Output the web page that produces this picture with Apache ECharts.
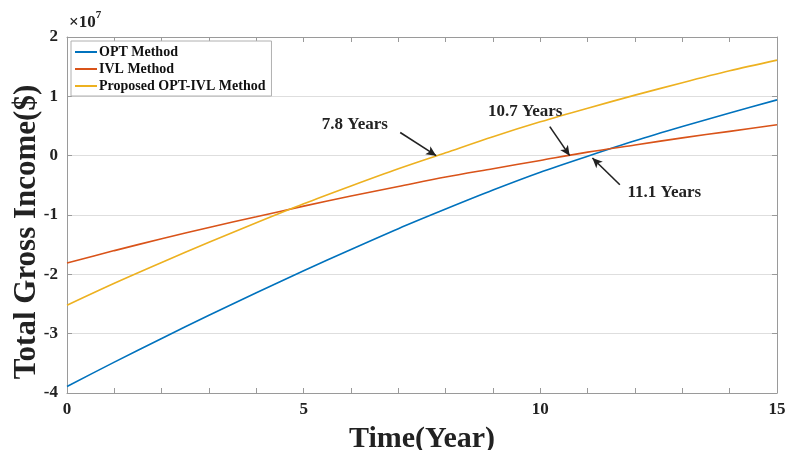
<!DOCTYPE html>
<html>
<head>
<meta charset="utf-8">
<script src="https://cdn.jsdelivr.net/npm/echarts@6/dist/echarts.min.js"></script>
<style>
  html, body { margin: 0; padding: 0; background: #fff; }
  #main { width: 786px; height: 450px; }
</style>
</head>
<body>
<div id="main"></div>
<script>
// values, in units of 1e7 $
const years = [0, 1, 2, 3, 4, 5, 6, 7, 8, 9, 10, 11, 12, 13, 14, 15]
const optMethod = [-3.89, -3.48, -3.08, -2.69, -2.31, -1.94, -1.58, -1.23, -0.90, -0.58, -0.28, -0.01, 0.25, 0.49, 0.72, 0.94]
const ivlMethod = [-1.81, -1.60, -1.40, -1.21, -1.03, -0.85, -0.68, -0.52, -0.36, -0.22, -0.08, 0.06, 0.18, 0.30, 0.41, 0.52]
const optIvlMethod = [-2.52, -2.15, -1.80, -1.46, -1.13, -0.81, -0.51, -0.22, 0.05, 0.32, 0.57, 0.80, 1.02, 1.23, 1.43, 1.61]

// annotations: label position, arrow tail, arrow head (data coords)
const notes = [
    { text: '7.8 Years', at: [6.08, 0.52], from: [7.04, 0.39], to: [7.8, 0] },
    { text: '10.7 Years', at: [9.68, 0.74], from: [10.2, 0.49], to: [10.62, 0] },
    { text: '11.1 Years', at: [12.62, -0.62], from: [11.68, -0.49], to: [11.1, -0.04] }
]

const FONT = 'Liberation Serif'
const COLORS = ['#0072BD', '#D95319', '#EDB120']

const pair = arr => years.map((t, i) => [t, arr[i]])

const chart = echarts.init(document.getElementById('main'))

const lineSeries = (name, arr, color) => ({
    name: name,
    type: 'line',
    data: pair(arr),
    showSymbol: false,
    smooth: 0.3,
    lineStyle: { width: 1.6, color: color },
    itemStyle: { color: color },
    z: 3
})

const axisGrey = '#9a9a9a'

const option = {
    animation: false,
    color: COLORS,
    grid: { left: 67, right: 9, top: 37, bottom: 57, containLabel: false, outerBoundsMode: 'none' },
    legend: {
        left: 71,
        top: 41,
        orient: 'vertical',
        itemWidth: 22,
        itemHeight: 2,
        itemGap: 3,
        icon: 'rect',
        padding: [4, 6, 3, 4],
        borderColor: '#b0b0b0',
        borderWidth: 1,
        borderRadius: 0,
        backgroundColor: '#fff',
        textStyle: { fontFamily: FONT, fontWeight: 'bold', fontSize: 14, color: '#111', padding: [0, 0, 0, -3] },
        data: ['OPT Method', 'IVL Method', 'Proposed OPT-IVL Method']
    },
    xAxis: [{
        type: 'value',
        min: 0, max: 15, interval: 5,
        name: 'Time(Year)',
        nameLocation: 'middle',
        nameGap: 31,
        nameTextStyle: { fontFamily: FONT, fontWeight: 'bold', fontSize: 30, color: '#222' },
        axisLine: { onZero: false, lineStyle: { color: axisGrey } },
        axisTick: { inside: true, length: 5, lineStyle: { color: axisGrey } },
        minorTick: { show: true, splitNumber: 5, length: 5, lineStyle: { color: axisGrey } },
        axisLabel: { fontFamily: FONT, fontWeight: 'bold', fontSize: 17, color: '#222', margin: 8 },
        splitLine: { show: false }
    }, {
        type: 'value',
        position: 'top',
        min: 0, max: 15, interval: 5,
        axisLine: { show: true, onZero: false, lineStyle: { color: axisGrey } },
        axisTick: { inside: true, length: 5, lineStyle: { color: axisGrey } },
        minorTick: { show: true, splitNumber: 5, length: 5, lineStyle: { color: axisGrey } },
        axisLabel: { show: false },
        splitLine: { show: false }
    }],
    yAxis: [{
        type: 'value',
        min: -4, max: 2, interval: 1,
        axisLine: { show: true, onZero: false, lineStyle: { color: axisGrey } },
        axisTick: { show: true, inside: true, length: 5, lineStyle: { color: axisGrey } },
        axisLabel: { fontFamily: FONT, fontWeight: 'bold', fontSize: 17, color: '#222', margin: 9 },
        splitLine: { lineStyle: { color: '#dedede', width: 1 } }
    }, {
        type: 'value',
        position: 'right',
        min: -4, max: 2, interval: 1,
        axisLine: { show: true, onZero: false, lineStyle: { color: axisGrey } },
        axisTick: { show: true, inside: true, length: 5, lineStyle: { color: axisGrey } },
        axisLabel: { show: false },
        splitLine: { show: false }
    }],
    series: [
        lineSeries('OPT Method', optMethod, COLORS[0]),
        lineSeries('IVL Method', ivlMethod, COLORS[1]),
        Object.assign(lineSeries('Proposed OPT-IVL Method', optIvlMethod, COLORS[2]), {
            markLine: {
                silent: true,
                symbol: ['none', 'arrow'],
                symbolSize: [7, 10],
                lineStyle: { color: '#222', width: 1.6, type: 'solid' },
                label: { show: false },
                data: notes.map(n => [{ coord: n.from }, { coord: n.to }])
            },
            markPoint: {
                silent: true,
                symbol: 'circle',
                symbolSize: 0,
                label: {
                    show: true,
                    position: 'inside',
                    fontFamily: FONT,
                    fontWeight: 'bold',
                    fontSize: 17,
                    color: '#222',
                    formatter: p => p.name
                },
                data: notes.map(n => ({ name: n.text, coord: n.at }))
            }
        })
    ],
    graphic: [{
        type: 'text',
        left: 69,
        top: 10,
        style: {
            text: '{a|\u00d710}{b|7}',
            rich: {
                a: { fontFamily: FONT, fontSize: 17, fontWeight: 'bold', fill: '#222', verticalAlign: 'bottom' },
                b: { fontFamily: FONT, fontSize: 11, fontWeight: 'bold', fill: '#222', padding: [0, 0, 10, 0], verticalAlign: 'top' }
            }
        }
    }, {
        // y axis title, MATLAB puts it a bit lower than the plot centre
        type: 'text',
        x: 27,
        y: 232,
        rotation: Math.PI / 2,
        style: {
            text: 'Total Gross Income($)',
            fontFamily: FONT,
            fontSize: 31,
            fontWeight: 'bold',
            fill: '#222',
            align: 'center',
            verticalAlign: 'middle'
        }
    }]
}

chart.setOption(option)
</script>
</body>
</html>
